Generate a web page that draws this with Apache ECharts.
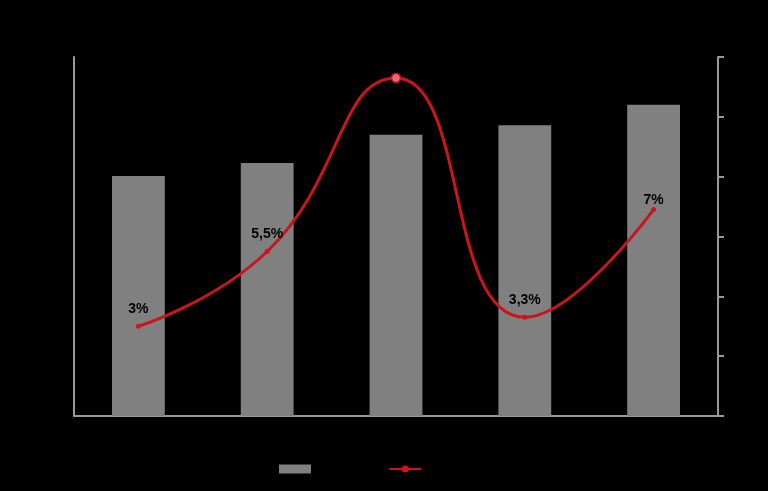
<!DOCTYPE html>
<html>
<head>
<meta charset="utf-8">
<style>html,body{margin:0;padding:0;background:#000;}#c{width:768px;height:491px;}</style>
<script src="https://cdn.jsdelivr.net/npm/echarts@6/dist/echarts.min.js"></script>
</head>
<body>
<div id="c"></div>
<script>
var categories = ['2010', '2011', '2012', '2013', '2014'];
var barName = 'Объем';
var lineName = 'Рост, %';
var barValues = [40.1, 42.3, 47.0, 48.6, 52.0];
var lineValues = [3.0, 5.5, 11.3, 3.3, 6.9];
var lineLabels = ['3%', '5,5%', '11,3%', '3,3%', '7%'];
var rightTicks = ['0%', '2%', '4%', '6%', '8%', '10%', '12%'];

var chart = echarts.init(document.getElementById('c'));
var lineData = lineValues.map(function (v, i) {
  var d = { value: v };
  if (i === 2) {
    d.symbolSize = 9;
    d.itemStyle = { color: '#e86a78', borderColor: '#c8161b', borderWidth: 1.5 };
  }
  if (i === 4) {
    d.label = { distance: 0 };
  }
  return d;
});
chart.setOption({
  backgroundColor: '#000000',
  animation: false,
  grid: { left: 74, right: 50, top: 57, bottom: 75 },
  legend: {
    bottom: 11,
    left: 274,
    itemWidth: 32,
    itemHeight: 9,
    itemGap: 34,
    textStyle: { color: '#000000', fontSize: 12 },
    data: [{ name: barName, icon: 'rect' }, { name: lineName }]
  },
  xAxis: {
    type: 'category',
    data: categories,
    axisLine: { lineStyle: { color: '#9a9a9a', width: 2 } },
    axisTick: { show: false },
    axisLabel: { color: '#000000' }
  },
  yAxis: [
    {
      type: 'value',
      min: 0, max: 60, interval: 10,
      axisLine: { show: true, lineStyle: { color: '#9a9a9a', width: 2 } },
      axisTick: { show: false },
      splitLine: { show: false },
      axisLabel: { color: '#000000' }
    },
    {
      type: 'value',
      min: 0, max: 12, interval: 2,
      position: 'right',
      axisLine: { show: true, lineStyle: { color: '#9a9a9a', width: 2 } },
      axisTick: { show: true, length: 6, lineStyle: { color: '#9a9a9a', width: 2 } },
      splitLine: { show: false },
      axisLabel: {
        color: '#000000',
        formatter: function (v) { return rightTicks[Math.round(v / 2)]; }
      }
    }
  ],
  series: [
    {
      name: barName,
      type: 'bar',
      data: barValues,
      barWidth: '41%',
      itemStyle: { color: '#808080' }
    },
    {
      name: lineName,
      type: 'line',
      yAxisIndex: 1,
      data: lineData,
      smooth: 0.5,
      symbol: 'circle',
      symbolSize: 5,
      lineStyle: { color: '#c8161b', width: 3 },
      itemStyle: { color: '#d01418' },
      label: {
        show: true,
        position: 'top',
        distance: 8,
        color: '#000000',
        fontFamily: 'Liberation Sans Narrow, Liberation Sans, Arial',
        fontWeight: 'bold',
        fontSize: 14,
        formatter: function (p) { return lineLabels[p.dataIndex]; }
      }
    }
  ]
});
</script>
</body>
</html>
